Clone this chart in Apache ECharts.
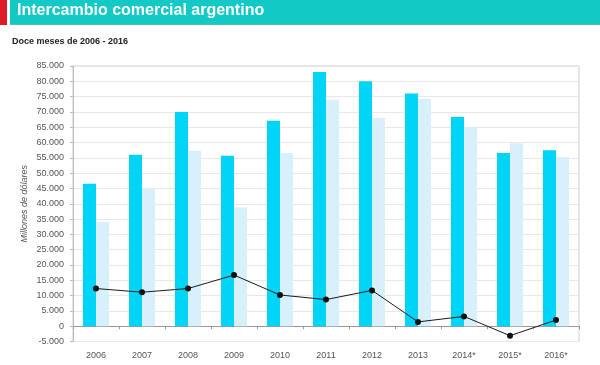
<!DOCTYPE html>
<html>
<head>
<meta charset="utf-8">
<script src="https://cdn.jsdelivr.net/npm/echarts@6/dist/echarts.min.js"></script>
<style>
html,body{margin:0;padding:0;background:#fff;}
#c{width:600px;height:365px;}
</style>
</head>
<body>
<div id="c"></div>
<script>
var categories = ['2006','2007','2008','2009','2010','2011','2012','2013','2014*','2015*','2016*'];
var exportaciones = [46500, 56000, 70000, 55700, 67100, 83000, 80000, 76000, 68300, 56600, 57500];
var importaciones = [34000, 44900, 57300, 38800, 56500, 74000, 68000, 74300, 65000, 59800, 55300];
var saldo = [12300, 11100, 12300, 16700, 10200, 8700, 11700, 1400, 3200, -3100, 2000];
var yTicks = {min: -5000, max: 85000, interval: 5000};

function fmt(v){
  var s = Math.abs(v).toString().replace(/\B(?=(\d{3})+(?!\d))/g, '.');
  return (v < 0 ? '-' : '') + s;
}

var chart = echarts.init(document.getElementById('c'), null, {renderer:'canvas'});
chart.setOption({
  animation: false,
  backgroundColor: '#fff',
  graphic: [
    {type:'rect', shape:{x:0,y:0,width:7,height:25}, style:{fill:'#dd1c2a'}},
    {type:'rect', shape:{x:10,y:0,width:590,height:24}, style:{fill:'#12c9c6'}},
    {type:'rect', shape:{x:10,y:24,width:590,height:1}, style:{fill:'#3fc7b0'}},
    {type:'text', left:17, top:3, style:{text:'Intercambio comercial argentino', fill:'#fff', font:'bold 16px "Liberation Sans", Arial, sans-serif'}},
    {type:'text', left:12, top:37, style:{text:'Doce meses de 2006 - 2016', fill:'#222', font:'bold 9px "Liberation Sans", Arial, sans-serif'}}
  ],
  grid: {left:73, right:21, top:66, bottom:23.5, show:true, borderColor:'#cfcfcf', borderWidth:1, containLabel:false, outerBoundsMode:'none'},
  xAxis: [{
    type:'category', data: categories,
    axisLine:{onZero:true, lineStyle:{color:'#9a9a9a'}},
    axisTick:{show:true, length:3, inside:false, lineStyle:{color:'#9a9a9a'}},
    axisLabel:{show:false},
    splitLine:{show:false}
  },{
    type:'category', data: categories, position:'bottom',
    axisLine:{show:false, onZero:false},
    axisTick:{show:false},
    axisLabel:{color:'#555', fontSize:9, fontFamily:'"Liberation Sans", Arial, sans-serif', margin:10},
    splitLine:{show:false}
  }],
  yAxis: {
    type:'value', min:yTicks.min, max:yTicks.max, interval:yTicks.interval,
    name:'Millones de dólares', nameLocation:'middle', nameGap:44, nameRotate:90, nameMoveOverlap:false,
    nameTextStyle:{color:'#555', fontSize:9, fontStyle:'italic', fontFamily:'"Liberation Sans", Arial, sans-serif'},
    axisLine:{show:true, lineStyle:{color:'#bdbdbd'}},
    axisTick:{show:true, length:3, lineStyle:{color:'#bdbdbd'}},
    axisLabel:{color:'#555', fontSize:9, margin:9, fontFamily:'"Liberation Sans", Arial, sans-serif', formatter:fmt},
    splitLine:{show:true, lineStyle:{color:'#e8e8e8'}}
  },
  series: [
    {type:'bar', xAxisIndex:0, data: exportaciones, barWidth:13, barGap:'0%', itemStyle:{color:'#00d4f7'}},
    {type:'bar', xAxisIndex:0, data: importaciones, barWidth:13, barGap:'0%', itemStyle:{color:'#d7f0fb'}},
    {type:'line', xAxisIndex:0, data: saldo, symbol:'circle', symbolSize:6, z:5,
      lineStyle:{color:'#1a1a1a', width:1}, itemStyle:{color:'#111'}}
  ]
});
</script>
</body>
</html>
